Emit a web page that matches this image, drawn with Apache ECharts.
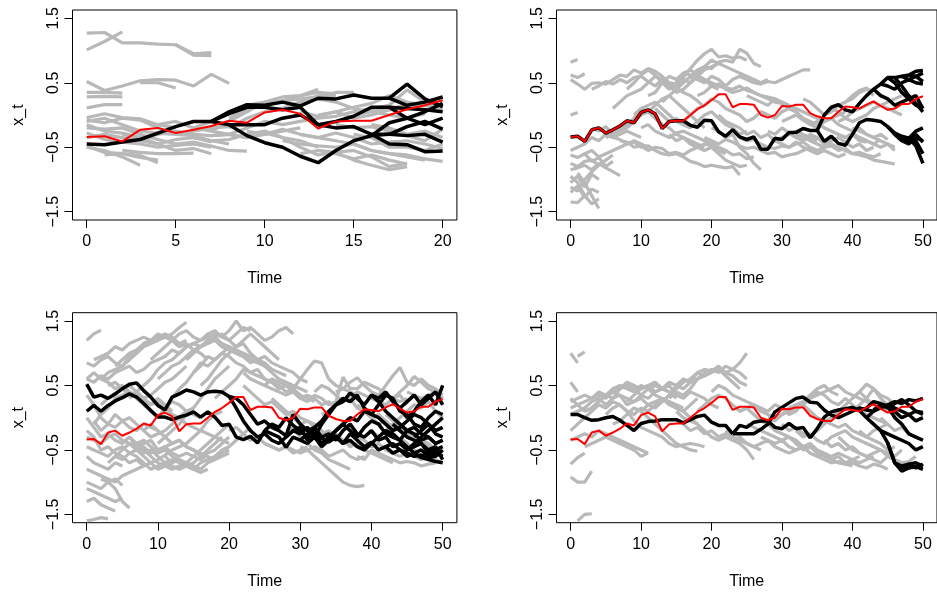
<!DOCTYPE html>
<html><head><meta charset="utf-8">
<script src="https://cdn.jsdelivr.net/npm/echarts@6/dist/echarts.min.js"></script>
<style>html,body{margin:0;padding:0;background:#fff}#c{width:937px;height:592px}</style>
</head><body><div id="c"></div>
<script>
// true state (red), shared by all panels
const trueState = [-0.34,-0.33,-0.41,-0.23,-0.20,-0.28,-0.23,-0.17,-0.09,-0.12,0.04,0.08,0.02,-0.21,-0.10,-0.09,-0.09,0.0,0.09,0.15,0.23,0.32,0.32,0.12,0.17,0.17,0.16,0.0,-0.04,0.0,0.14,0.13,0.16,0.16,0.03,-0.02,-0.05,-0.05,0.05,0.13,0.12,0.10,0.16,0.21,0.14,0.08,0.10,0.17,0.17,0.25,0.29];

// each trajectory: [start time, value at start, value at start+1, ...]
const p1Grey = [
 [0,1.27,1.28,1.12,1.12,1.10,1.09,0.93,0.92],
 [5,1.09,0.95,0.97],
 [0,1.01,1.14,1.29],
 [0,0.52,0.38,0.45,0.53,0.55,0.54,0.45,0.63,0.49],
 [3,0.50,0.50,0.42],
 [0,0.35,0.35,0.34],
 [0,0.28,0.29,0.28],
 [0,0.11,0.16,0.16],
 [0,-0.04,0.02,-0.04,-0.06,-0.15,-0.2],
 [0,-0.08,-0.12,-0.05,-0.08,-0.2,-0.3,-0.32,-0.4,-0.45],
 [0,-0.15,-0.25,-0.28,-0.35,-0.3,-0.25,-0.3,-0.32,-0.3,-0.35],
 [0,-0.2,-0.22,-0.2,-0.3,-0.38,-0.45,-0.42,-0.48,-0.55,-0.56],
 [0,-0.28,-0.38,-0.42,-0.45,-0.5,-0.47,-0.45,-0.5],
 [0,-0.48,-0.58,-0.6,-0.66,-0.7],
 [0,-0.5,-0.55,-0.65,-0.78],
 [1,-0.62,-0.6,-0.63,-0.74],
 [2,-0.55,-0.58,-0.6,-0.6,-0.59],
 [0,-0.35,-0.3,-0.35,-0.4,-0.45,-0.38,-0.35,-0.42],
 [0,-0.1,-0.05,-0.15,-0.25,-0.28,-0.3,-0.25,-0.2,-0.18],
 [2,-0.3,-0.35,-0.45,-0.55,-0.52,-0.6],
 [4,-0.15,-0.1,-0.2,-0.25,-0.3,-0.35,-0.3,-0.25,-0.2],
 [6,-0.35,-0.4,-0.38,-0.3,-0.25,-0.35,-0.4,-0.5],
 [6,-0.2,-0.1,0.05,0.15,0.2,0.22,0.3,0.4],
 [7,-0.25,-0.1,0.05,0.2,0.28,0.3,0.35,0.33],
 [8,-0.2,-0.05,0.05,0.1,0.2,0.3,0.3],
 [8,-0.05,0.1,0.18,0.22,0.25,0.28,0.35,0.35],
 [7,-0.32,-0.3,-0.2,-0.1,-0.15,-0.1,-0.05,-0.02,0.05,0.1,0.15,0.39,0.2,0.15],
 [9,-0.25,-0.3,-0.22,-0.3,-0.35,-0.28,-0.35,-0.45,-0.42,-0.4,-0.45,-0.52],
 [10,-0.28,-0.35,-0.5,-0.62,-0.58,-0.55,-0.65,-0.8,-0.75],
 [10,0.05,0.1,0.2,0.25,0.2,0.1,0.05,0.0,-0.05,0.02],
 [12,-0.6,-0.55,-0.58,-0.7,-0.78,-0.85,-0.8],
 [12,-0.3,-0.35,-0.4,-0.45,-0.55,-0.6,-0.65,-0.7],
 [13,-0.55,-0.6,-0.68,-0.62,-0.7,-0.76],
 [11,-0.4,-0.45,-0.48,-0.5,-0.45,-0.55,-0.6,-0.62,-0.68,-0.72],
 [12,0.05,-0.02,0.05,-0.05,0.0,0.08,0.12,0.15,0.1],
 [14,-0.15,-0.2,-0.18,-0.25,-0.32,-0.4,-0.22],
 [13,0.0,0.05,0.12,0.18,0.3,0.2,0.15,0.12],
 [15,-0.3,-0.35,-0.5,-0.5,-0.55,-0.45],
 [15,0.0,0.05,0.1,0.15,0.2,0.28],
 [16,-0.15,-0.2,-0.3,-0.25,-0.35]
];
const p1Black = [
 [0,-0.45,-0.46,-0.42,-0.38,-0.28,-0.18,-0.10,-0.10,0.05,0.16,0.15,0.2,0.14,0.26,0.25,0.31,0.26,0.26,0.48,0.25,0.13],
 [7,-0.10,0.02,0.12,0.12,0.08,0.12,-0.15,-0.1,-0.02,0.12,0.12,0.1,0.08,0.05],
 [7,-0.10,-0.15,-0.32,-0.43,-0.5,-0.64,-0.74,-0.55,-0.4,-0.32,-0.12,-0.05,0.05,0.18],
 [8,-0.15,-0.15,-0.15,-0.05,0.0,-0.15,-0.2,-0.18,-0.3,-0.3,-0.32,-0.3,-0.42],
 [16,-0.3,-0.45,-0.46,-0.57,-0.56],
 [16,-0.32,-0.3,-0.18,-0.1,-0.22],
 [17,0.26,0.15,0.2,0.28],
 [17,0.12,-0.05,-0.15,-0.05]
];

const p2Grey = [
 [0,-1.35,-1.36,-1.25,-1.38,-1.3],
 [0,-1.2,-1.1,-1.28,-1.15,-1.2],
 [0,-1.05,-0.95,-1.12,-0.92,-1.0],
 [0,-0.85,-0.82,-0.78,-0.85,-0.75,-0.82,-0.88,-0.94],
 [0,-0.75,-0.8,-0.72,-0.7,-0.78],
 [0,-0.62,-0.66,-0.6,-0.72,-0.66,-0.8,-0.72],
 [0,-1.12,-1.18,-1.0,-0.88,-0.78,-0.7,-0.62],
 [1,-0.9,-1.05,-1.25,-1.45],
 [0,-0.95,-1.05,-1.25],
 [0,-0.55,-0.5,-0.45,-0.35,-0.4,-0.3,-0.35,-0.3,-0.25,-0.3,-0.35],
 [2,-0.6,-0.55,-0.65,-0.6,-0.55,-0.5,-0.45,-0.4,-0.45,-0.5],
 [0,0.82,0.86],
 [0,0.62,0.58,0.64],
 [0,0.55,0.48,0.4,0.49,0.5,0.48,0.55,0.62,0.6,0.7,0.65,0.72,0.68,0.6,0.5,0.42,0.35,0.3,0.22,0.12],
 [0,0.0,0.04],
 [3,0.4,0.45,0.52,0.48,0.55,0.5,0.58,0.6,0.52,0.45,0.55,0.5,0.48,0.58,0.72,0.85,0.95,1.02,0.9,0.92,0.88,0.9,0.85],
 [6,0.1,0.2,0.3,0.35,0.4,0.5,0.6,0.55,0.45,0.35,0.4,0.5,0.6,0.7,0.75,0.8],
 [8,0.4,0.5,0.62,0.7,0.62,0.5,0.4,0.5,0.65,0.7,0.62,0.55,0.45,0.4],
 [11,0.3,0.35,0.5,0.6,0.55,0.65,0.62,0.55,0.5,0.6,0.55,0.45],
 [13,0.2,0.3,0.4,0.5,0.6,0.7,0.75,0.72,0.82,0.85,0.82,1.02,0.96,0.8,0.75],
 [15,0.45,0.55,0.5,0.6,0.55,0.5,0.45,0.42,0.4,0.45,0.38,0.35,0.3,0.28,0.25,0.2,0.15],
 [17,0.55,0.65,0.75,0.85,0.8,0.75,0.7,0.65,0.6,0.55,0.5,0.55],
 [22,0.45,0.55,0.6,0.55,0.5,0.48,0.52,0.5,0.55,0.6,0.65,0.7,0.7],
 [18,0.3,0.35,0.45,0.48,0.4,0.35,0.38,0.42,0.35,0.3,0.25,0.2,0.18,0.1,0.05],
 [3,-0.2,-0.25,-0.18,-0.3,-0.22,-0.15,-0.05,0.1,0.15,0.2,0.1,0.0,-0.1,-0.15,-0.2],
 [5,-0.35,-0.3,-0.25,-0.2,-0.1,0.0,0.05,-0.05,-0.15,-0.2,-0.3,-0.35,-0.4,-0.45,-0.5],
 [5,-0.3,-0.35,-0.38,-0.45,-0.42,-0.5,-0.48,-0.55,-0.6,-0.62,-0.6,-0.65,-0.72,-0.75,-0.8,-0.78,-0.8,-0.82,-0.8,-0.93],
 [7,-0.4,-0.42,-0.5,-0.48,-0.55,-0.5,-0.52,-0.6,-0.58,-0.62,-0.55,-0.5,-0.45,-0.48,-0.55,-0.6],
 [9,0.0,0.1,0.05,0.15,0.25,0.3,0.2,0.1,0.0,-0.1,-0.2],
 [10,-0.2,-0.15,-0.25,-0.3,-0.35,-0.28,-0.25,-0.3,-0.35,-0.4,-0.45,-0.5,-0.55,-0.62,-0.6,-0.68,-0.65],
 [12,0.1,0.0,-0.1,-0.05,-0.15,-0.2,-0.1,0.0,0.05,-0.05,-0.15,-0.2,-0.3,-0.25],
 [14,-0.3,-0.4,-0.35,-0.45,-0.5,-0.55,-0.5,-0.6,-0.7,-0.75,-0.8,-0.78],
 [16,-0.1,0.0,0.1,0.15,0.25,0.2,0.1,0.05,0.0,-0.1,-0.05,0.05,0.0],
 [20,-0.2,-0.25,-0.35,-0.3,-0.5,-0.6,-0.75,-0.85],
 [19,-0.35,-0.4,-0.45,-0.38,-0.42,-0.48,-0.52,-0.5,-0.55,-0.6,-0.58,-0.65,-0.62,-0.6,-0.55,-0.5],
 [21,0.0,-0.1,-0.15,-0.2,-0.3,-0.25,-0.35,-0.3,-0.4,-0.35,-0.3,-0.25,-0.3,-0.35,-0.4],
 [24,-0.35,-0.4,-0.38,-0.45,-0.5,-0.52,-0.48,-0.5,-0.45,-0.42,-0.5,-0.55,-0.5,-0.45,-0.5,-0.55,-0.6,-0.62,-0.65,-0.7,-0.72,-0.74,-0.76],
 [25,0.3,0.25,0.2,0.15,0.25,0.2,0.15,0.1,0.05,0.0,-0.05,-0.1,-0.05,0.0,0.05],
 [28,-0.25,-0.3,-0.2,-0.28,-0.35,-0.4,-0.3,-0.35,-0.45,-0.4,-0.35,-0.42,-0.5,-0.45,-0.55,-0.5],
 [27,0.05,0.0,-0.05,0.05,0.1,0.05,-0.05,-0.1,-0.15,-0.2,-0.25,-0.3,-0.35,-0.28,-0.35,-0.4,-0.45,-0.38],
 [29,-0.4,-0.45,-0.5,-0.42,-0.5,-0.55,-0.6,-0.55,-0.6,-0.65,-0.6],
 [30,-0.1,-0.05,0.0,-0.08,-0.15,-0.1,-0.2,-0.25,-0.3,-0.35,-0.3,-0.4,-0.42],
 [33,0.25,0.2,0.1,0.0,0.05,0.15,0.2,0.3,0.38,0.42,0.3],
 [34,-0.15,-0.2,-0.1,-0.05,-0.15,-0.2,-0.25,-0.2,-0.3,-0.35,-0.3,-0.38],
 [36,0.0,0.08,0.15,0.2,0.25,0.35,0.4,0.38],
 [37,0.1,0.05,-0.05,-0.1,-0.05,0.0,0.1,0.15,0.2,0.25,0.3],
 [32,-0.3,-0.35,-0.4,-0.45,-0.5,-0.48,-0.55,-0.52,-0.6,-0.58,-0.62,-0.65,-0.6],
 [38,-0.1,-0.05,0.05,0.1,0.15,0.2,0.15,0.1,0.05,0.0],
 [40,-0.2,-0.25,-0.3,-0.35,-0.4,-0.45,-0.5],
 [41,-0.35,-0.4,-0.45,-0.5,-0.45,-0.55]
];
const p2Black = [
 [0,-0.34,-0.33,-0.41,-0.23,-0.20,-0.28,-0.23,-0.17,-0.09,-0.12,0.04,0.08,0.02,-0.21,-0.10,-0.09,-0.09,-0.16,-0.19,-0.08,-0.09,-0.26,-0.33,-0.23,-0.34,-0.38,-0.34,-0.53,-0.53,-0.36,-0.38,-0.27,-0.27,-0.21,-0.24,-0.24,-0.41,-0.33,-0.44,-0.47,-0.3,-0.12,-0.07,-0.08,-0.1,-0.18,-0.28,-0.33,-0.36,-0.48,-0.75],
 [46,-0.28,-0.35,-0.42,-0.4,-0.6],
 [47,-0.33,-0.38,-0.3,-0.42],
 [45,-0.18,-0.3,-0.4,-0.45,-0.35,-0.4],
 [48,-0.36,-0.25,-0.2],
 [35,-0.24,0.0,0.12,0.16,0.08,0.05,0.18,0.3,0.4,0.48,0.58,0.58,0.6,0.62,0.68,0.69],
 [44,0.48,0.45,0.4,0.5,0.55,0.5,0.48],
 [45,0.58,0.5,0.35,0.25,0.3,0.1],
 [46,0.58,0.45,0.3,0.18,0.05],
 [47,0.6,0.55,0.6,0.52],
 [43,0.4,0.3,0.25,0.15,0.2,0.25,0.15,0.12],
 [48,0.62,0.6,0.65]
];

const p3Grey = [
 [0,1.2,1.3,1.36],
 [0,0.85,0.8,0.9,0.95,0.85,0.8,0.9,1.0,1.15,1.2,1.22,1.25,1.3,1.4,1.48],
 [1,0.9,0.95,1.0,1.1,1.05,1.15,1.2,1.25,1.2,1.3,1.25,1.2,1.1],
 [2,0.6,0.7,0.75,0.8,0.95,1.0,1.1,1.15,1.2,1.25,1.2,1.1,1.15,1.05,1.0,0.9],
 [4,0.8,0.9,1.0,1.05,1.15,1.2,1.25,1.3,1.25,1.15,1.2],
 [0,0.6,0.55,0.65,0.6,0.7,0.75,0.8,0.7,0.75,0.85,0.9,0.95,1.05,1.0,1.1,1.15,1.2,1.25,1.3,1.25,1.35,1.5,1.35,1.4,1.3,1.2,1.25,1.35,1.4,1.3],
 [6,0.3,0.4,0.5,0.6,0.75,0.85,0.9,1.0,1.1,1.15,1.1,1.2,1.25,1.15,1.1,1.0,0.95,0.9,0.85,0.8,0.75,0.7,0.65],
 [9,0.9,1.0,1.1,1.2,1.3,1.35,1.25,1.2,1.3,1.35,1.25,1.2,1.3,1.4,1.35],
 [10,0.6,0.7,0.8,0.85,0.95,1.05,1.1,1.15,1.2,1.1,1.05,1.0,0.95,0.85,0.9,0.8,0.7,0.6,0.55,0.5,0.45,0.4],
 [12,0.3,0.45,0.55,0.7,0.8,0.95,0.9,1.0,0.95,0.85,0.8,0.7,0.75,0.6,0.55,0.45,0.5,0.4,0.3,0.35,0.3,0.2,0.25,0.15],
 [14,0.9,1.0,1.1,1.2,1.25,1.3,1.2,1.1,1.15,1.0,0.9,0.85,0.75],
 [15,0.7,0.85,0.8,0.9,1.0,1.1,1.05,1.0,0.95,0.9,0.95,0.85,0.8,0.75,0.7,0.6,0.55],
 [16,0.5,0.6,0.75,0.9,1.0,1.1,1.2,1.3,1.2,1.1,1.0,0.9],
 [18,0.3,0.4,0.5,0.6,0.75,0.7,0.65,0.6,0.55,0.5,0.4,0.45,0.35,0.3,0.25],
 [22,0.7,0.6,0.55,0.5,0.6,0.55,0.5,0.45,0.6,0.75,0.88,0.85,0.6,0.5,0.45,0.4,0.35],
 [22,0.5,0.4,0.3,0.2,0.25,0.15,0.05,0.1,0.0,-0.05,-0.1,-0.2,-0.3,-0.25,-0.35,-0.4,-0.45,-0.5],
 [25,0.5,0.45,0.4,0.35,0.4,0.3,0.25,0.35,0.3,0.2,0.25,0.63,0.45,0.45,0.55,0.5,0.45,0.35,0.3,0.25,0.3],
 [26,0.3,0.2,0.1,0.0,-0.1,-0.05,-0.15,-0.25,-0.2,-0.3,-0.35,-0.45,-0.4,-0.5,-0.55,-0.6,-0.65,-0.7],
 [32,0.4,0.5,0.45,0.35,0.25,0.3,0.15,0.1,0.0,-0.1,-0.05,-0.15,-0.2,-0.3,-0.35,-0.4,-0.5,-0.55,-0.6],
 [35,0.4,0.45,0.55,0.62,0.5,0.4,0.35,0.3],
 [41,0.35,0.5,0.65,0.78,0.55,0.5,0.6,0.5,0.45,0.35],
 [43,0.3,0.4,0.5,0.64,0.55,0.45,0.4,0.3],
 [2,0.2,0.3,0.35,0.45,0.5,0.4,0.3,0.35,0.45,0.55,0.6,0.7,0.8],
 [0,0.6,0.7,0.6,0.55,0.45,0.5,0.4,0.35,0.25,0.2,0.3,0.2,0.1],
 [0,0.35,0.2,0.0,-0.1,0.05,-0.05,-0.15,-0.2,-0.1,-0.15,-0.2],
 [1,-0.05,-0.2,-0.1,-0.15,-0.05,0.0,-0.1,-0.2,-0.3,-0.25,-0.2,-0.1,0.0,0.1,0.15],
 [0,0.0,-0.15,-0.3,-0.25,-0.35,-0.4,-0.3,-0.45,-0.4,-0.35,-0.5,-0.45,-0.55,-0.6,-0.55,-0.6,-0.65,-0.58],
 [0,-0.3,-0.35,-0.4,-0.3,-0.25,-0.35,-0.4,-0.5,-0.55,-0.5,-0.6,-0.7,-0.75,-0.8,-0.75,-0.7,-0.6,-0.5,-0.4,-0.3],
 [0,-0.2,-0.3,-0.5,-0.45,-0.55,-0.6,-0.7,-0.65,-0.75,-0.7,-0.8,-0.75,-0.7],
 [0,-0.45,-0.5,-0.55,-0.6,-0.5,-0.45,-0.55,-0.5,-0.6,-0.7,-0.65,-0.58,-0.5,-0.45,-0.4,-0.3,-0.2,-0.05,0.05,0.1],
 [0,-0.6,-0.7,-0.75,-0.8,-0.7,-0.75],
 [0,-0.8,-0.85,-0.9,-0.95,-1.0,-0.9,-0.85,-0.8,-0.75],
 [0,-1.0,-1.05,-1.1,-1.0,-0.95,-1.05],
 [0,-1.1,-1.15,-1.2,-1.25,-1.3,-1.25],
 [0,-1.3,-1.25,-1.35,-1.4,-1.45],
 [0,-1.6,-1.58,-1.55,-1.57],
 [2,-0.95,-1.0,-1.1,-1.3,-1.4],
 [3,-0.7,-0.6,-0.65,-0.55,-0.6,-0.7,-0.8,-0.75,-0.7,-0.65,-0.7,-0.75,-0.8,-0.85,-0.8],
 [4,-0.6,-0.5,-0.4,-0.45,-0.5,-0.6,-0.7,-0.75,-0.8,-0.75,-0.7,-0.6,-0.5,-0.4,-0.3,-0.2,-0.1],
 [6,-0.3,-0.4,-0.35,-0.45,-0.55,-0.5,-0.6,-0.65,-0.7,-0.75,-0.8,-0.7,-0.65,-0.55,-0.5],
 [7,-0.5,-0.45,-0.55,-0.5,-0.45,-0.4,-0.35,-0.45,-0.5,-0.6,-0.55,-0.5,-0.4,-0.3],
 [8,-0.2,-0.1,-0.2,-0.3,-0.4,-0.35,-0.45,-0.5,-0.55,-0.6,-0.65,-0.6,-0.55],
 [11,-0.6,-0.7,-0.65,-0.75,-0.8,-0.7,-0.65,-0.6,-0.5,-0.45,-0.35,-0.25,-0.15],
 [1,-0.1,0.05,0.15,0.3,0.35,0.4,0.3,0.2,0.1,0.0,0.15,0.25,0.2,0.1,0.05,0.0],
 [3,0.5,0.55,0.45,0.35,0.4,0.3,0.2,0.25,0.15,0.05,0.0,-0.1,-0.15,-0.2,-0.25,-0.3,-0.35,-0.4],
 [10,-0.4,-0.3,-0.2,-0.1,0.05,0.15,0.3,0.45,0.6,0.7,0.8],
 [20,-0.2,-0.15,-0.25,-0.35,-0.3,-0.4,-0.45,-0.5,-0.45,-0.55,-0.5,-0.45],
 [25,-0.4,-0.45,-0.5,-0.45,-0.5,-0.55,-0.5,-0.45,-0.5,-0.6,-0.55,-0.5,-0.6,-0.65,-0.6],
 [30,-0.45,-0.5,-0.6,-0.7,-0.8,-0.9,-1.0,-1.05,-1.07,-1.05],
 [28,-0.2,-0.15,-0.3,-0.4,-0.5,-0.55,-0.65,-0.7,-0.75,-0.8],
 [38,-0.6,-0.65,-0.5,-0.55,-0.6,-0.65,-0.7,-0.68,-0.7,-0.75,-0.72,-0.7],
 [36,-0.1,-0.2,-0.3,-0.35,-0.45,-0.4,-0.5,-0.55,-0.6,-0.55,-0.6,-0.65,-0.6],
 [38,0.2,0.1,0.0,0.05,-0.05,-0.15,-0.2,-0.3,-0.25,-0.35,-0.4,-0.5,-0.6],
 [40,-0.2,-0.3,-0.2,-0.1,0.0,0.1,0.2,0.15,0.25,0.1,0.0],
 [42,0.05,-0.05,-0.15,-0.25,-0.3,-0.4,-0.45,-0.5,-0.55],
 [44,-0.3,-0.4,-0.5,-0.6,-0.55,-0.65,-0.7],
 [33,0.05,0.1,0.2,0.25,0.3,0.4,0.35,0.3,0.25,0.2,0.3,0.35,0.2],
 [45,0.4,0.35,0.3,0.35,0.4,0.3]
];
const p3Black = [
 [0,0.52,0.32,0.35,0.3,0.37,0.45,0.52,0.54,0.42,0.32,0.19,0.12,0.32,0.37,0.43,0.4,0.35,0.4,0.41,0.4,0.33,0.15,-0.05,-0.2,-0.3,-0.25,-0.35,-0.4,-0.3,-0.2,-0.25,-0.15,-0.3,-0.1,0.05,0.2,0.25,0.38,0.3,0.2,0.35,0.3,0.4,0.25,0.15,0.0,0.1,0.25,0.35,0.2,0.5],
 [0,0.1,0.19,0.1,0.19,0.26,0.31,0.37,0.32,0.22,0.11,0.01,0.01,-0.03,0.01,0.04,0.09,0.01,0.09,0.01,-0.12,-0.1,-0.3,-0.34,-0.29,-0.39,-0.2,-0.25,-0.3,-0.46,-0.3,-0.35,-0.25,-0.2,-0.32,-0.38,-0.3,-0.4,-0.25,-0.35,-0.45,-0.38,-0.5,-0.45,-0.55,-0.5,-0.6,-0.55,-0.62,-0.65,-0.68,-0.7],
 [20,0.33,0.3,0.2,0.05,-0.1,-0.05,-0.15,-0.2,-0.28,0.05,-0.1,-0.2,-0.15,-0.3,-0.25,-0.35,-0.2,-0.1,-0.25,-0.3,-0.2,-0.35,-0.3,-0.45,-0.4,-0.5,-0.45,-0.4,-0.55,-0.5,-0.45],
 [25,-0.2,-0.1,-0.15,0.0,-0.12,-0.2,-0.3,-0.15,-0.05,0.1,0.2,0.3,0.25,0.35,0.15,0.05,0.2,0.35,0.3,0.1,0.05,-0.1,-0.15,0.0,0.1,0.05],
 [28,-0.3,-0.2,-0.15,-0.35,-0.25,-0.4,-0.3,-0.2,-0.1,-0.2,-0.3,-0.15,-0.05,-0.1,-0.25,-0.3,-0.35,-0.2,-0.15,-0.25,-0.3,-0.4,-0.35],
 [30,-0.35,-0.4,-0.3,-0.45,-0.35,-0.28,-0.4,-0.35,-0.45,-0.5,-0.4,-0.3,-0.2,-0.25,-0.35,-0.45,-0.55,-0.5,-0.6,-0.55,-0.6],
 [34,-0.32,-0.2,-0.1,0.0,-0.05,0.1,0.05,0.0,-0.1,-0.2,-0.15,-0.05,0.05,0.0,-0.1,-0.2,-0.15],
 [40,0.35,0.25,0.1,0.0,-0.1,-0.2,-0.25,-0.35,-0.3,-0.4,-0.35],
 [42,-0.45,-0.4,-0.5,-0.55,-0.6,-0.58,-0.62,-0.6,-0.5],
 [44,0.15,0.25,0.35,0.2,0.3,0.4,0.2],
 [45,-0.5,-0.4,-0.3,-0.2,-0.1,0.0],
 [43,-0.1,-0.2,-0.3,-0.35,-0.4,-0.5,-0.45,-0.65],
 [46,-0.3,-0.2,-0.1,-0.25,-0.3]
];

const p4Grey = [
 [0,1.0,0.85],
 [1,0.95,1.02],
 [0,0.55,0.4],
 [0,-0.72,-0.62,-0.55],
 [0,-0.92,-1.0,-1.0,-0.83],
 [1,-1.6,-1.5,-1.49],
 [0,0.3,0.2,0.25,0.3,0.35,0.3,0.4,0.45,0.55,0.5,0.45,0.5,0.55,0.45,0.4,0.3],
 [0,0.25,0.3,0.35,0.3,0.4,0.35,0.45,0.5,0.45,0.4,0.5,0.45,0.35,0.3,0.25,0.2,0.15],
 [0,0.15,0.2,0.1,0.15,0.25,0.35,0.3,0.45,0.5,0.45,0.35,0.3,0.4,0.45,0.55,0.5,0.45,0.55,0.7,0.75,0.72,0.8,0.7,0.75,0.85,1.0],
 [0,0.05,0.1,0.15,0.25,0.3,0.2,0.3,0.35,0.2,0.25,0.3,0.2,0.15,0.25,0.35,0.5,0.6,0.55,0.6,0.65,0.7,0.75,0.65,0.55,0.45],
 [0,-0.2,-0.1,0.0,0.1,0.2,0.15,0.25,0.2,0.1,0.05,0.15,0.1,0.2,0.3,0.25,0.15,0.1,0.2,0.3],
 [0,-0.35,-0.3,-0.25,-0.3,-0.2,-0.25,-0.3,-0.35,-0.4,-0.45,-0.5,-0.55],
 [2,-0.45,-0.4,-0.35,-0.3,-0.35,-0.4,-0.45,-0.5,-0.6,-0.55],
 [3,0.15,0.25,0.35,0.4,0.35,0.3,0.25,0.35,0.45,0.5,0.45,0.4,0.35],
 [5,0.05,0.15,0.2,0.1,-0.05,-0.15,-0.2,-0.25,-0.3,-0.4,-0.45,-0.42,-0.4,-0.42,-0.45],
 [6,-0.1,-0.05,0.05,0.15,0.1,0.2,0.25,0.3,0.2,0.15,0.1,0.0,-0.1],
 [8,0.25,0.35,0.45,0.5,0.4,0.45,0.5,0.35,0.3,0.4,0.35,0.3,0.2,0.15],
 [10,0.1,0.0,-0.1,-0.2,-0.3,-0.4,-0.45,-0.5,-0.52],
 [12,0.2,0.25,0.35,0.45,0.55,0.6,0.7,0.65,0.72,0.78,0.7,0.65,0.55,0.5],
 [14,0.3,0.4,0.35,0.45,0.6,0.7,0.75,0.7,0.8,0.75,0.7,0.6],
 [15,0.1,0.0,-0.05,-0.1,-0.2,-0.3,-0.35,-0.3,-0.35,-0.4,-0.5,-0.65],
 [16,-0.1,-0.2,-0.15,-0.25,-0.2,-0.3,-0.25,-0.35,-0.3,-0.4,-0.45,-0.5],
 [18,0.1,0.2,0.3,0.35,0.3,0.2,0.1,0.15,0.05,-0.05,-0.1,-0.2,-0.25,-0.3,-0.4,-0.5,-0.45,-0.55,-0.6,-0.65,-0.7,-0.72,-0.75],
 [20,0.4,0.5,0.45,0.35,0.3,0.25,0.2,0.15,0.1,0.2,0.15,0.05,0.1,0.25,0.35,0.45,0.5,0.4,0.35],
 [22,-0.2,-0.3,-0.35,-0.4,-0.45,-0.4,-0.35,-0.45,-0.5,-0.55,-0.5,-0.45,-0.55,-0.6,-0.65,-0.7,-0.68,-0.72,-0.7,-0.75,-0.78,-0.72,-0.75,-0.8],
 [24,0.1,0.15,0.2,0.1,0.05,0.0,0.05,0.1,0.15,0.2,0.1,0.0,-0.05,0.0],
 [25,-0.1,-0.15,-0.2,-0.25,-0.3,-0.35,-0.3,-0.35,-0.45,-0.4,-0.5,-0.55,-0.6,-0.55,-0.6,-0.65,-0.7,-0.65,-0.6],
 [27,-0.3,-0.35,-0.4,-0.35,-0.45,-0.5,-0.45,-0.55,-0.6,-0.55,-0.65,-0.6,-0.7,-0.65,-0.6],
 [28,0.0,-0.05,0.05,0.15,0.2,0.25,0.3,0.35,0.4,0.45,0.5,0.4,0.35,0.3,0.25,0.2],
 [30,-0.1,-0.2,-0.15,-0.25,-0.3,-0.2,-0.1,0.0,0.1,0.2,0.3,0.4,0.52,0.45,0.35,0.3,0.2],
 [32,-0.2,-0.3,-0.25,-0.35,-0.4,-0.3,-0.25,-0.2,-0.3,-0.35,-0.4,-0.45,-0.5,-0.55,-0.6,-0.5],
 [33,0.2,0.3,0.4,0.35,0.25,0.2,0.3,0.2,0.1,0.05,0.0,-0.05,-0.1],
 [35,0.0,-0.05,-0.1,-0.15,-0.1,-0.2,-0.25,-0.3,-0.2,-0.15,-0.1],
 [36,-0.35,-0.45,-0.4,-0.5,-0.45,-0.55,-0.6,-0.55,-0.5,-0.6,-0.65,-0.7,-0.75],
 [38,-0.3,-0.4,-0.5,-0.55,-0.6,-0.65,-0.7,-0.6,-0.65,-0.7,-0.68,-0.6],
 [40,0.1,0.2,0.3,0.45,0.3,0.2],
 [40,0.3,0.4,0.3,0.2,0.15,0.1,0.05,0.0],
 [41,-0.2,-0.3,-0.35,-0.4,-0.5,-0.45],
 [44,0.0,-0.1,-0.2,-0.15,-0.25,-0.3,-0.35]
];
const p4Black = [
 [0,0.05,0.05,0.0,-0.04,-0.03,0.0,0.02,-0.04,-0.12,-0.2,-0.09,-0.06,-0.05,-0.03,-0.03,-0.03,-0.08,-0.03,0.02,0.04,-0.07,-0.12,-0.12,-0.25],
 [23,-0.25,-0.25,-0.25,-0.25,-0.18,-0.1,0.09,0.16,0.23,0.3,0.32,0.24,0.23,0.12,0.04,0.0,0.05,0.1,0.15,0.12,0.1,0.15,0.2,0.25,0.22,0.28,0.26,0.3],
 [23,-0.25,-0.12,-0.15,-0.07,-0.05,-0.05,-0.15,-0.17,-0.09,-0.17,-0.15,-0.31,-0.17,0.01,0.09,0.12,0.14,0.16,0.11,0.0,-0.1,-0.2,-0.39,-0.7,-0.83,-0.78,-0.76,-0.8],
 [45,-0.39,-0.7,-0.75,-0.72,-0.7,-0.75],
 [46,-0.7,-0.8,-0.72,-0.78,-0.72],
 [44,-0.2,-0.25,-0.3,-0.35,-0.4,-0.5,-0.45],
 [42,0.0,0.1,0.2,0.18,0.15,0.1,0.05,0.1,0.08],
 [43,0.12,0.2,0.15,0.22,0.28,0.2,0.1,0.05],
 [41,0.11,0.15,0.25,0.22,0.18,0.0,-0.1,-0.25,-0.3,-0.35],
 [45,0.2,0.1,0.0,0.05,-0.05,0.0]
];

const timeTicks20 = [0,5,10,15,20];
const timeTicks50 = [0,10,20,30,40,50];
const yTicks = [-1.5,-0.5,0.5,1.5];
const xTitle = 'Time', yTitle = 'x_t';

const panels = [
 {grey:p1Grey, black:p1Black, tEnd:20, ticks:timeTicks20, xMin:-0.8, xMax:20.8, left:72.5, top:10},
 {grey:p2Grey, black:p2Black, tEnd:50, ticks:timeTicks50, xMin:-2, xMax:52, left:556.5, top:10},
 {grey:p3Grey, black:p3Black, tEnd:50, ticks:timeTicks50, xMin:-2, xMax:52, left:72.5, top:312.7},
 {grey:p4Grey, black:p4Black, tEnd:50, ticks:timeTicks50, xMin:-2, xMax:52, left:556.5, top:312.7}
];
const FONT = 'Liberation Sans, Arial, Helvetica, sans-serif';
const fmtY = v => (v < 0 ? '\u2212' + Math.abs(v) : String(v));
const toPts = line => line.slice(1).map((v, k) => [line[0] + k, v]);

const grid = [], xAxis = [], yAxis = [], series = [];
panels.forEach((p, i) => {
  grid.push({left:p.left, top:p.top, width:384.4, height:210, show:true, borderColor:'#000', borderWidth:1, backgroundColor:'transparent'});
  xAxis.push({type:'value', gridIndex:i, min:p.xMin, max:p.xMax, position:'bottom',
    name:xTitle, nameLocation:'middle', nameGap:51, nameTextStyle:{fontFamily:FONT, fontSize:16, color:'#000'},
    axisLine:{show:false, onZero:false}, splitLine:{show:false},
    axisTick:{show:true, length:8, inside:false, lineStyle:{color:'#000'}, customValues:p.ticks},
    axisLabel:{show:true, margin:14, fontFamily:FONT, fontSize:16, color:'#000', customValues:p.ticks}});
  yAxis.push({type:'value', gridIndex:i, min:-1.629, max:1.629, position:'left',
    name:yTitle, nameLocation:'middle', nameGap:46, nameRotate:90, nameTextStyle:{fontFamily:FONT, fontSize:16, color:'#000'},
    axisLine:{show:false, onZero:false}, splitLine:{show:false},
    axisTick:{show:true, length:8, inside:false, lineStyle:{color:'#000'}, customValues:yTicks},
    axisLabel:{show:true, margin:11, rotate:90, fontFamily:FONT, fontSize:16, color:'#000', customValues:yTicks, formatter:fmtY}});
  p.grey.forEach(l => series.push({type:'line', xAxisIndex:i, yAxisIndex:i, data:toPts(l), showSymbol:false, symbol:'none',
    lineStyle:{color:'#B8B8B8', width:3.2}, silent:true, animation:false}));
  p.black.forEach(l => series.push({type:'line', xAxisIndex:i, yAxisIndex:i, data:toPts(l), showSymbol:false, symbol:'none',
    lineStyle:{color:'#000', width:3.5}, silent:true, animation:false}));
  series.push({type:'line', xAxisIndex:i, yAxisIndex:i, data:trueState.slice(0, p.tEnd + 1).map((v, t) => [t, v]),
    showSymbol:false, symbol:'none', lineStyle:{color:'#FF0000', width:2}, silent:true, animation:false});
});

const chart = echarts.init(document.getElementById('c'), null, {renderer:'canvas'});
chart.setOption({backgroundColor:'#fff', animation:false, grid, xAxis, yAxis, series});
</script></body></html>
